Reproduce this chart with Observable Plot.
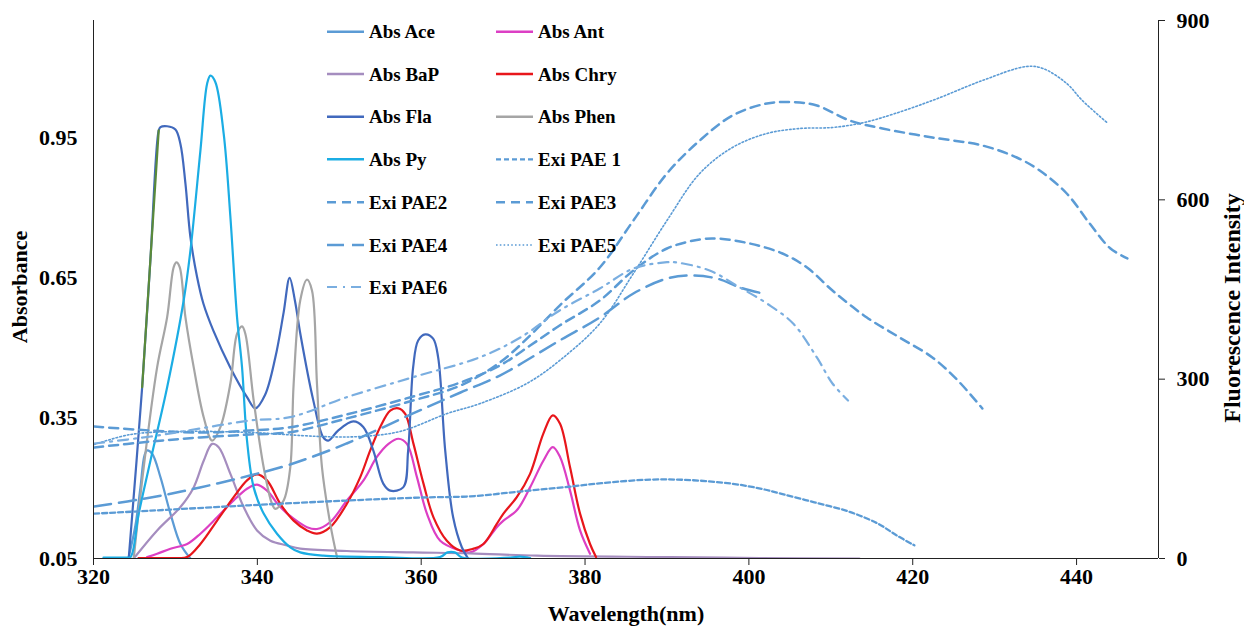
<!DOCTYPE html>
<html><head><meta charset="utf-8">
<script src="https://cdn.jsdelivr.net/npm/d3@7"></script>
<script src="https://cdn.jsdelivr.net/npm/@observablehq/plot@0.6"></script>
<style>body{margin:0;background:#fff;} #chart{width:1244px;height:631px;}</style>
</head><body><div id="chart"></div>
<script>
// ---- tick labels ----
const xTicks = [320, 340, 360, 380, 400, 420, 440];
const absTicks = [0.05, 0.35, 0.65, 0.95];
const fluTicks = [0, 300, 600, 900];
const xDomain = [320, 450];
const absDomain = [0.05, 1.2];
const fluMax = 900;

// ---- absorbance series [wavelength, absorbance] ----
const absAce = [[324.3,0.053],[325.12,0.121],[325.73,0.202],[326.22,0.27],[326.55,0.281],[327.16,0.274],[328.17,0.224],[329.39,0.146],[330.61,0.081],[331.83,0.05]];
const absAnt = [[326.55,0.053],[327.77,0.06],[329.39,0.071],[331.43,0.081],[333.05,0.103],[335.09,0.138],[337.11,0.174],[338.74,0.199],[339.96,0.208],[341.18,0.195],[342.8,0.16],[344.43,0.135],[346.06,0.117],[347.28,0.113],[348.9,0.128],[350.93,0.174],[352.96,0.217],[354.59,0.267],[356.01,0.295],[357.23,0.306],[358.26,0.295],[359.48,0.224],[360.7,0.146],[362.32,0.088],[364.76,0.067],[365.98,0.063],[367.6,0.081],[369.23,0.117],[370.04,0.131],[371.67,0.153],[373.29,0.202],[374.91,0.259],[376.06,0.288],[376.95,0.267],[378.17,0.195],[379.39,0.11],[380.61,0.06]];
const absBaP = [[324.91,0.05],[327.77,0.11],[330.61,0.16],[332.23,0.202],[333.45,0.259],[334.48,0.295],[335.28,0.288],[336.71,0.231],[338.33,0.16],[339.96,0.11],[341.59,0.088],[343.62,0.078],[345.24,0.071],[350.93,0.066],[359.02,0.063],[365.98,0.061],[374.11,0.056],[390.4,0.053],[401.3,0.051],[413.5,0.05]];
const absChry = [[325.49,0.051],[330.0,0.051],[331.43,0.053],[333.05,0.081],[335.09,0.131],[337.11,0.181],[338.74,0.217],[339.96,0.23],[341.18,0.217],[342.8,0.167],[344.43,0.131],[346.06,0.11],[347.28,0.103],[348.9,0.117],[350.93,0.167],[352.56,0.224],[353.78,0.281],[355.0,0.331],[356.22,0.366],[357.23,0.371],[358.05,0.359],[359.06,0.295],[360.28,0.21],[361.5,0.138],[363.13,0.088],[364.76,0.067],[366.38,0.071],[367.6,0.081],[369.23,0.124],[370.04,0.146],[371.67,0.181],[373.29,0.231],[374.91,0.317],[376.06,0.356],[376.95,0.338],[378.17,0.245],[379.39,0.146],[380.61,0.081],[381.34,0.053]];
const absFla = [[324.3,0.05],[325.94,0.416],[326.95,0.69],[327.96,0.965],[328.17,0.972],[328.99,0.974],[330.0,0.967],[330.61,0.936],[331.22,0.852],[331.83,0.737],[332.65,0.651],[333.41,0.595],[334.63,0.537],[336.71,0.458],[338.74,0.395],[339.76,0.371],[340.95,0.4],[342.2,0.48],[343.2,0.575],[343.94,0.65],[344.6,0.6],[345.24,0.531],[346.83,0.388],[348.05,0.309],[348.66,0.302],[349.88,0.324],[351.71,0.343],[352.93,0.331],[354.15,0.281],[355.37,0.21],[356.22,0.195],[357.8,0.202],[358.41,0.281],[359.02,0.459],[359.63,0.516],[360.49,0.529],[361.46,0.52],[362.07,0.48],[362.93,0.281],[363.9,0.138],[364.96,0.074],[365.73,0.05]];
const absFlaGreenFrom = 325.94, absFlaGreenTo = 327.96;
const absPhen = [[324.91,0.05],[326.13,0.245],[327.77,0.459],[328.99,0.566],[329.79,0.673],[330.12,0.683],[330.52,0.673],[331.22,0.566],[332.23,0.459],[333.45,0.352],[334.48,0.302],[335.49,0.331],[336.71,0.424],[337.52,0.53],[338.13,0.546],[338.54,0.53],[339.55,0.388],[340.77,0.245],[341.79,0.167],[342.2,0.156],[343.21,0.174],[344.02,0.245],[344.43,0.423],[345.24,0.602],[346.06,0.646],[346.67,0.623],[347.28,0.423],[347.89,0.245],[348.9,0.124],[349.72,0.053]];
const absPy = [[321.22,0.052],[323.9,0.052],[324.51,0.053],[325.52,0.146],[326.95,0.259],[328.99,0.416],[331.01,0.602],[331.83,0.708],[333.05,0.922],[333.87,1.065],[334.27,1.082],[334.88,1.068],[335.89,0.958],[336.71,0.78],[337.52,0.566],[338.13,0.459],[338.74,0.302],[339.55,0.202],[340.77,0.146],[342.4,0.103],[344.02,0.074],[345.24,0.063],[348.05,0.056],[355.0,0.053],[362.3,0.053],[363.2,0.063],[364.1,0.063],[365.0,0.052],[370.85,0.052],[372.07,0.054],[373.3,0.051]];

// ---- excitation series [wavelength, fluorescence intensity] ----
const exiPAE1 = [[320.1,75],[327,80],[339,89],[351,97],[360,102],[366,104],[372,112],[378,120],[382,126],[388,132],[393,131],[398,125],[401.4,117],[404,108],[408,94],[412.3,78],[415.8,58],[418,39],[420.2,22]];
const exiPAE2 = [[320.1,220.8],[327,214.1],[333,210.8],[339.1,214.1],[344,219.6],[350.9,240.9],[359,271],[364.8,294.4],[369.6,322.9],[373.3,356.3],[376.9,389.8],[381.8,431.6],[385.9,481.8],[390,518.6],[394,533.7],[396.1,535.3],[400.1,527],[404.1,510.2],[407.1,486.8],[410.2,448.3],[414.4,403.2],[418.4,369.7],[422.4,336.3],[425.5,297.8],[428.5,250.9]];
const exiPAE3 = [[320.1,185.7],[327,195.7],[333,202.4],[339.1,207.4],[344,211.3],[350.9,234.2],[359,264.3],[364.8,289.4],[369.6,327.9],[373.3,373.1],[376.9,423.2],[381.8,486.8],[385.9,565.4],[390,644.1],[394,699.3],[398,741.1],[402.2,761.2],[405.4,763.4],[408.3,757.8],[412.3,732.7],[416.3,719.3],[422.4,704.3],[428.5,690.9],[432.7,670.8],[435.5,649.1],[438.8,610.6],[441.6,560.4],[444.1,519],[446.2,501.9]];
const exiPAE4 = [[320.1,87],[327,102],[333,118.8],[339.1,138.9],[344,157.3],[350.9,192.4],[359,242.6],[364.8,277.7],[369.6,306.1],[376.9,364.7],[381.8,403.2],[385.9,443.3],[390,468.4],[392.8,473.4],[396.1,468.4],[398.9,453.4],[401.7,443.3]];
const exiPAE5 = [[320.1,190.7],[324.5,207.4],[330.6,212.5],[339.1,210.8],[347.7,204.1],[352.6,204.1],[357.4,212.5],[363.2,242.6],[367.2,259.3],[372.9,292.8],[376.9,331.2],[381.8,393.1],[385.9,476.8],[390,565.4],[394,644.1],[398,687.6],[402.2,711],[406.2,719.3],[410.2,721],[413.5,727.7],[416.3,737.7],[422.4,766.2],[428.5,799.6],[433.9,823.1],[435.9,819.7],[438.8,794.6],[440.7,766.2],[443.7,729.4]];
const exiPAE6 = [[320.1,192.4],[327,204.1],[333,217.5],[339.1,230.9],[344,236.4],[350.9,269.8],[359,303.3],[367.2,336.8],[372.1,369.7],[376.9,414.9],[381.8,451.7],[385.9,485.1],[390,495.7],[391.2,495.2],[395.2,481.8],[398.9,453.4],[402.2,426.6],[405.4,393.1],[408.3,336.3],[410.2,292.8],[412.1,264.3]];

// ---- styling tables ----
const absSeries = [
  {name:"Abs Ace",  data:absAce,  color:"#5b9bd5"},
  {name:"Abs Ant",  data:absAnt,  color:"#dc3fc4"},
  {name:"Abs BaP",  data:absBaP,  color:"#a58dbf"},
  {name:"Abs Chry", data:absChry, color:"#e8161b"},
  {name:"Abs Fla",  data:absFla,  color:"#4169bd"},
  {name:"Abs Phen", data:absPhen, color:"#a5a5a5"},
  {name:"Abs Py",   data:absPy,   color:"#1badE4"}
];
const exiSeries = [
  {name:"Exi PAE 1", data:exiPAE1, color:"#5b9bd5", dash:"5,3",        width:2.3},
  {name:"Exi PAE2",  data:exiPAE2, color:"#5b9bd5", dash:"9,6",        width:2.5},
  {name:"Exi PAE3",  data:exiPAE3, color:"#5b9bd5", dash:"9,6",        width:2.5},
  {name:"Exi PAE4",  data:exiPAE4, color:"#5b9bd5", dash:"17,8",       width:2.5},
  {name:"Exi PAE5",  data:exiPAE5, color:"#5b9bd5", dash:"1.6,2.2",    width:1.6},
  {name:"Exi PAE6",  data:exiPAE6, color:"#7aaee0", dash:"10,6,2,6",   width:2.2}
];
const legendOrder = ["Abs Ace","Abs Ant","Abs BaP","Abs Chry","Abs Fla","Abs Phen","Abs Py","Exi PAE 1","Exi PAE2","Exi PAE3","Exi PAE4","Exi PAE5","Exi PAE6"];

const toAbs = f => absDomain[0] + f * (absDomain[1] - absDomain[0]) / fluMax;
const toFlu = a => (a - absDomain[0]) * fluMax / (absDomain[1] - absDomain[0]);

const marks = [];
for (const s of absSeries) {
  marks.push(Plot.line(s.data, {x: d => d[0], y: d => d[1], stroke: s.color, strokeWidth: 2.2, curve: "catmull-rom", clip: true}));
}
marks.push(Plot.line(absFla.filter(d => d[0] >= absFlaGreenFrom && d[0] <= absFlaGreenTo),
  {x: d => d[0], y: d => d[1], stroke: "#5a8a3a", strokeWidth: 2.2, curve: "linear"}));
for (const s of exiSeries) {
  marks.push(Plot.line(s.data, {x: d => d[0], y: d => toAbs(d[1]), stroke: s.color, strokeWidth: s.width, strokeDasharray: s.dash, curve: "catmull-rom", clip: true}));
}
marks.push(
  Plot.ruleY([absDomain[0]], {stroke: "#222", strokeWidth: 1}),
  Plot.ruleX([xDomain[0]], {stroke: "#222", strokeWidth: 1}),
  Plot.ruleX([xDomain[1]], {stroke: "#222", strokeWidth: 1}),
  Plot.axisX({ticks: xTicks, tickSize: 7, tickPadding: 3, label: null, tickFormat: d => String(d), stroke: "#222"}),
  Plot.axisY({ticks: absTicks, tickSize: 0, tickPadding: 16, label: null, tickFormat: d => d.toFixed(2)}),
  Plot.axisY({anchor: "right", ticks: fluTicks.map(toAbs), tickSize: 6, tickPadding: 12, label: null, tickFormat: d => String(Math.round(toFlu(d))), stroke: "#222"})
);

const chart = Plot.plot({
  width: 1244, height: 631,
  marginLeft: 93, marginRight: 86, marginTop: 20, marginBottom: 73,
  x: {domain: xDomain},
  y: {domain: absDomain},
  style: {fontFamily: "'Liberation Serif', 'Times New Roman', serif", fontWeight: "bold", fontSize: "22px", color: "#000", background: "#fff"},
  marks
});

const svg = d3.select(chart);
const font = "'Liberation Serif', 'Times New Roman', serif";
// axis titles
svg.append("text").attr("x", 626).attr("y", 621).attr("text-anchor", "middle")
  .style("font", `bold 22px ${font}`).attr("fill", "#000").text("Wavelength(nm)");
svg.append("text").attr("transform", "translate(27,287) rotate(-90)").attr("text-anchor", "middle")
  .style("font", `bold 22px ${font}`).attr("fill", "#000").text("Absorbance");
svg.append("text").attr("transform", "translate(1240,308) rotate(-90)").attr("text-anchor", "middle")
  .style("font", `bold 24px ${font}`).attr("fill", "#000").text("Fluorescence Intensity");

// legend
const allSeries = [...absSeries.map(s => ({...s, dash: null, width: 2.4})), ...exiSeries];
const rowsY = [31.7, 74, 116.7, 159.3, 202.3, 245, 287];
const lg = svg.append("g").attr("text-anchor", "start");
legendOrder.forEach((name, i) => {
  const s = allSeries.find(d => d.name === name);
  const col = i % 2, row = Math.floor(i / 2);
  const x0 = col === 0 ? 327 : 496;
  const y = rowsY[row];
  const ln = lg.append("line").attr("x1", x0).attr("x2", x0 + 37).attr("y1", y).attr("y2", y)
    .attr("stroke", s.color).attr("stroke-width", s.width);
  if (s.dash) ln.attr("stroke-dasharray", s.dash);
  lg.append("text").attr("x", x0 + 42).attr("y", y).attr("dy", "0.35em").attr("text-anchor", "start")
    .style("font", `bold 19px ${font}`).attr("fill", "#000").text(name);
});

document.getElementById("chart").appendChild(chart);
</script>
</body></html>
